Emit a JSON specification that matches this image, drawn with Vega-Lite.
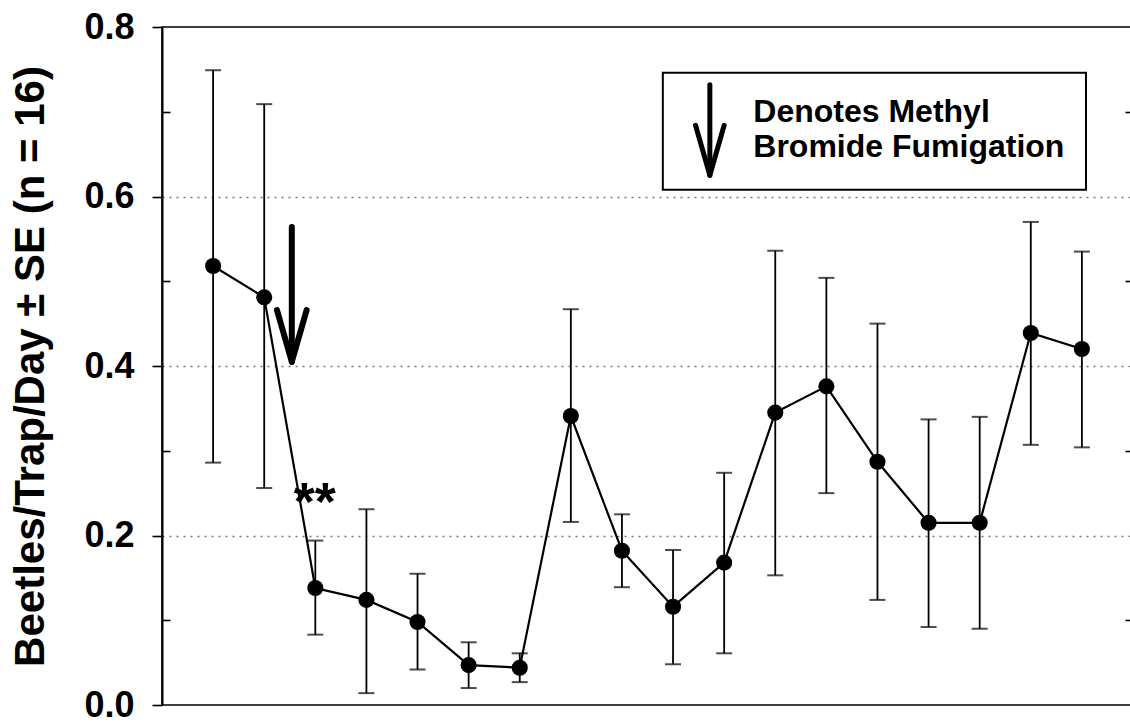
{
  "$schema": "https://vega.github.io/schema/vega-lite/v6.json",
  "width": 971,
  "height": 678,
  "autosize": {"type": "none"},
  "padding": {"left": 162, "top": 27, "right": 0, "bottom": 20},
  "background": "white",
  "config": {
    "view": {"stroke": "black", "strokeWidth": 1.5},
    "font": "Liberation Sans"
  },
  "datasets": {
    "pts": [
      {"i": 1, "mean": 0.518, "lo": 0.286, "hi": 0.749},
      {"i": 2, "mean": 0.481, "lo": 0.256, "hi": 0.709},
      {"i": 3, "mean": 0.138, "lo": 0.083, "hi": 0.194},
      {"i": 4, "mean": 0.124, "lo": 0.014, "hi": 0.231},
      {"i": 5, "mean": 0.098, "lo": 0.042, "hi": 0.155},
      {"i": 6, "mean": 0.047, "lo": 0.020, "hi": 0.074},
      {"i": 7, "mean": 0.044, "lo": 0.027, "hi": 0.061},
      {"i": 8, "mean": 0.341, "lo": 0.216, "hi": 0.467},
      {"i": 9, "mean": 0.182, "lo": 0.139, "hi": 0.225},
      {"i": 10, "mean": 0.116, "lo": 0.048, "hi": 0.183},
      {"i": 11, "mean": 0.168, "lo": 0.061, "hi": 0.274},
      {"i": 12, "mean": 0.345, "lo": 0.153, "hi": 0.536},
      {"i": 13, "mean": 0.376, "lo": 0.250, "hi": 0.504},
      {"i": 14, "mean": 0.287, "lo": 0.124, "hi": 0.450},
      {"i": 15, "mean": 0.215, "lo": 0.092, "hi": 0.337},
      {"i": 16, "mean": 0.215, "lo": 0.090, "hi": 0.340},
      {"i": 17, "mean": 0.439, "lo": 0.307, "hi": 0.570},
      {"i": 18, "mean": 0.420, "lo": 0.304, "hi": 0.535}
    ],
    "arrow": [
      {"x": 2.54, "y": 0.564, "x2": 2.54, "y2": 0.41},
      {"x": 2.25, "y": 0.466, "x2": 2.54, "y2": 0.405},
      {"x": 2.83, "y": 0.466, "x2": 2.54, "y2": 0.405}
    ],
    "legendArrow": [
      {"x": 10.72, "y": 0.732, "x2": 10.72, "y2": 0.63},
      {"x": 10.44, "y": 0.684, "x2": 10.72, "y2": 0.625},
      {"x": 11.0, "y": 0.684, "x2": 10.72, "y2": 0.625}
    ],
    "legendBox": [{"x": 9.8, "x2": 18.08, "y": 0.608, "y2": 0.746}],
    "legendText": [
      {"x": 11.57, "y": 0.688, "label": "Denotes Methyl"},
      {"x": 11.57, "y": 0.6466, "label": "Bromide Fumigation"}
    ],
    "stars": [{"x": 2.99, "y": 0.218, "label": "**"}]
  },
  "resolve": {"axis": {"y": "independent"}},
  "layer": [
    {
      "data": {"name": "pts"},
      "mark": {"type": "rule", "color": "black", "strokeWidth": 1.8},
      "encoding": {
        "x": {
          "field": "i", "type": "quantitative",
          "scale": {"domain": [0, 19], "nice": false, "zero": false},
          "axis": {
            "values": [1,2,3,4,5,6,7,8,9,10,11,12,13,14,15,16,17,18],
            "labels": false, "title": null, "grid": false,
            "tickSize": 9, "tickWidth": 1.6, "tickColor": "black",
            "domainColor": "black", "domainWidth": 2
          }
        },
        "y": {
          "field": "lo", "type": "quantitative",
          "scale": {"domain": [0, 0.8], "nice": false, "zero": false},
          "axis": {
            "orient": "left",
            "values": [0, 0.2, 0.4, 0.6, 0.8],
            "format": ".1f",
            "labelFont": "Liberation Sans", "labelFontSize": 36, "labelFontWeight": "bold",
            "labelColor": "black", "labelPadding": 18, "labelBaseline": "middle",
            "tickSize": 10,
            "tickWidth": 1.6, "tickColor": "black",
            "domainColor": "black", "domainWidth": 2,
            "grid": true,
            "gridColor": "#777777", "gridDash": [2, 5], "gridWidth": 1.6,
            "gridOpacity": {"condition": {"test": "datum.value > 0.05 && datum.value < 0.75", "value": 1}, "value": 0},
            "title": "Beetles/Trap/Day ± SE (n = 16)",
            "titleFont": "Liberation Sans", "titleFontSize": 42, "titleFontWeight": "bold",
            "titleColor": "black", "titleAngle": 270, "titleAlign": "center",
            "titleBaseline": "alphabetic", "titleX": -119, "titleY": 339
          }
        },
        "y2": {"field": "hi"}
      }
    },
    {
      "data": {"name": "pts"},
      "mark": {"type": "tick", "orient": "horizontal", "color": "black", "size": 16, "thickness": 2},
      "encoding": {
        "x": {"field": "i", "type": "quantitative", "axis": null},
        "y": {
          "field": "hi", "type": "quantitative",
          "axis": {
            "orient": "right",
            "values": [0.1, 0.3, 0.5, 0.7],
            "labels": false, "title": null, "grid": false, "domain": false,
            "tickSize": 8, "offset": -8,
            "tickWidth": 1.6, "tickColor": "black"
          }
        }
      }
    },
    {
      "data": {"name": "pts"},
      "mark": {"type": "tick", "orient": "horizontal", "color": "black", "size": 16, "thickness": 2},
      "encoding": {
        "x": {"field": "i", "type": "quantitative", "axis": null},
        "y": {
          "field": "lo", "type": "quantitative",
          "axis": {
            "orient": "left",
            "values": [0.1, 0.3, 0.5, 0.7],
            "labels": false, "title": null, "grid": false, "domain": false,
            "tickSize": 8, "offset": -8,
            "tickWidth": 1.6, "tickColor": "black"
          }
        }
      }
    },
    {
      "data": {"name": "pts"},
      "mark": {"type": "line", "color": "black", "strokeWidth": 2.2},
      "encoding": {
        "x": {"field": "i", "type": "quantitative", "axis": null},
        "y": {"field": "mean", "type": "quantitative", "axis": null}
      }
    },
    {
      "data": {"name": "pts"},
      "mark": {"type": "point", "shape": "circle", "filled": true, "color": "black", "opacity": 1, "size": 260},
      "encoding": {
        "x": {"field": "i", "type": "quantitative", "axis": null},
        "y": {"field": "mean", "type": "quantitative", "axis": null}
      }
    },
    {
      "data": {"name": "arrow"},
      "mark": {"type": "rule", "color": "black", "strokeWidth": 6, "strokeCap": "round"},
      "encoding": {
        "x": {"field": "x", "type": "quantitative", "axis": null},
        "y": {"field": "y", "type": "quantitative", "axis": null},
        "x2": {"field": "x2"},
        "y2": {"field": "y2"}
      }
    },
    {
      "data": {"name": "legendBox"},
      "mark": {"type": "rect", "fill": "white", "stroke": "black", "strokeWidth": 2},
      "encoding": {
        "x": {"field": "x", "type": "quantitative", "axis": null},
        "x2": {"field": "x2"},
        "y": {"field": "y", "type": "quantitative", "axis": null},
        "y2": {"field": "y2"}
      }
    },
    {
      "data": {"name": "legendArrow"},
      "mark": {"type": "rule", "color": "black", "strokeWidth": 5, "strokeCap": "round"},
      "encoding": {
        "x": {"field": "x", "type": "quantitative", "axis": null},
        "y": {"field": "y", "type": "quantitative", "axis": null},
        "x2": {"field": "x2"},
        "y2": {"field": "y2"}
      }
    },
    {
      "data": {"name": "legendText"},
      "mark": {"type": "text", "align": "left", "baseline": "alphabetic", "font": "Liberation Sans", "fontSize": 32, "fontWeight": "bold", "color": "black"},
      "encoding": {
        "x": {"field": "x", "type": "quantitative", "axis": null},
        "y": {"field": "y", "type": "quantitative", "axis": null},
        "text": {"field": "label"}
      }
    },
    {
      "data": {"name": "stars"},
      "mark": {"type": "text", "align": "center", "baseline": "alphabetic", "font": "Liberation Sans", "fontSize": 54, "fontWeight": "bold", "color": "black"},
      "encoding": {
        "x": {"field": "x", "type": "quantitative", "axis": null},
        "y": {"field": "y", "type": "quantitative", "axis": null},
        "text": {"field": "label"}
      }
    }
  ]
}
